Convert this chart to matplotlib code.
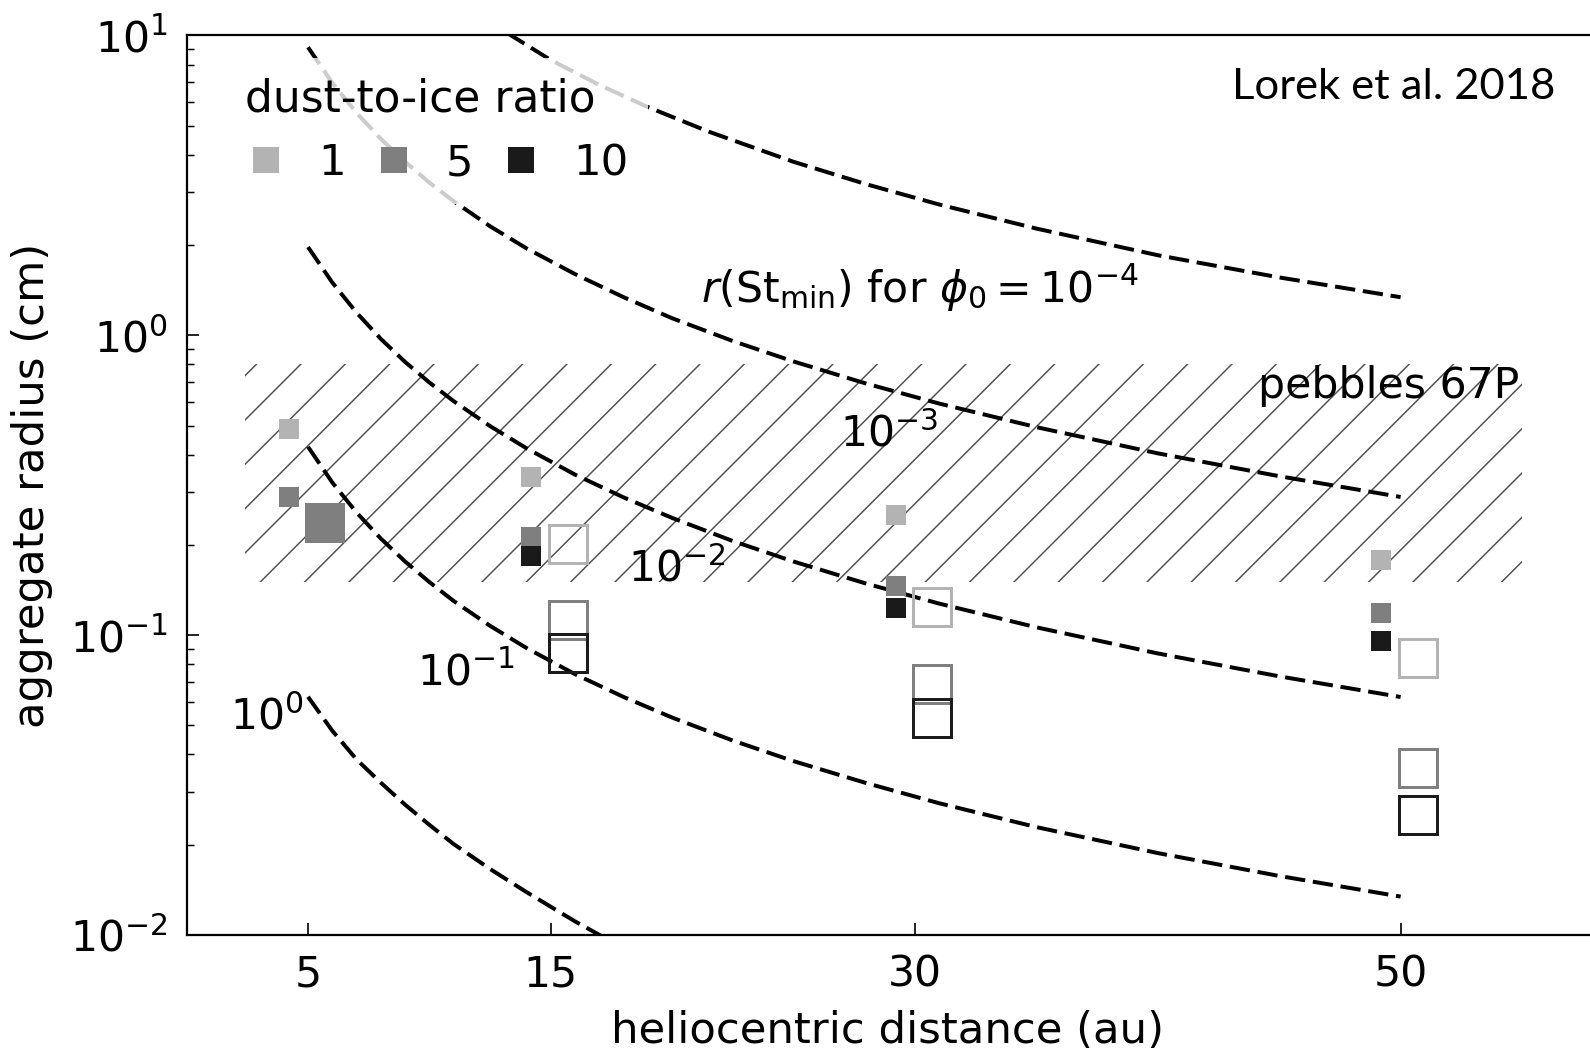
import numpy as np
import matplotlib
matplotlib.use("Agg")
import matplotlib.pyplot as plt
from matplotlib.lines import Line2D
from matplotlib.patches import Rectangle

# ---------------------------------------------------------------- data
distances = [5, 15, 30, 50]                  # au
ratio_labels = ["1", "5", "10"]              # dust-to-ice ratio
ratio_colors = ["#b3b3b3", "#7f7f7f", "#1a1a1a"]

# small filled squares (cm)
r_filled_1 = [0.488, 0.337, 0.251, 0.178]
r_filled_5 = [0.288, 0.212, 0.146, 0.119]
r_filled_10 = [np.nan, 0.184, 0.123, 0.0959]

# open squares (cm)
r_open_1 = [np.nan, 0.201, 0.124, 0.0842]
r_open_5 = [np.nan, 0.112, 0.0687, 0.036]
r_open_10 = [np.nan, 0.0869, 0.0528, 0.0251]

# large filled square at 5 au, dust-to-ice ratio 5
r_large_5au = 0.236

# r(St_min) curves for different phi_0
phi_labels = [r"$r(\mathrm{St}_{\mathrm{min}})$ for $\phi_0 = 10^{-4}$",
              r"$10^{-3}$", r"$10^{-2}$", r"$10^{-1}$", r"$10^{0}$"]

curve_x_e4 = [13.2, 15, 17, 19, 21.5, 25, 28, 31, 35, 40, 45, 50]
curve_r_e4 = [10.2, 8.28, 6.84, 5.77, 4.78, 3.79, 3.19, 2.73, 2.27, 1.85,
              1.56, 1.34]

curve_x_e3 = [5, 6, 7, 8, 9, 10, 11, 12.5, 14, 16, 18, 20, 22.5, 25, 28, 31,
              35, 40, 45, 50]
curve_r_e3 = [9.14, 6.95, 5.52, 4.52, 3.79, 3.23, 2.80, 2.31, 1.95, 1.60,
              1.34, 1.14, 0.957, 0.818, 0.690, 0.592, 0.494, 0.404, 0.339,
              0.289]

curve_x_e2 = [5, 6, 7, 8, 9, 10, 11, 12.5, 14, 16, 18, 20, 22.5, 25, 28, 31,
              35, 40, 45, 50]
curve_r_e2 = [1.97, 1.50, 1.19, 0.973, 0.815, 0.696, 0.603, 0.498, 0.420,
              0.343, 0.288, 0.246, 0.206, 0.176, 0.1485, 0.1274, 0.1062,
              0.0869, 0.0729, 0.0622]

curve_x_e1 = [5, 6, 7, 8, 9, 10, 11, 12.5, 14, 16, 18, 20, 22.5, 25, 28, 31,
              35, 40, 45, 50]
curve_r_e1 = [0.425, 0.323, 0.2564, 0.210, 0.176, 0.1503, 0.130, 0.1074,
              0.0906, 0.0741, 0.0622, 0.0531, 0.0445, 0.0380, 0.0321, 0.0275,
              0.0229, 0.01876, 0.01574, 0.01343]

curve_x_e0 = [5, 6, 7, 8, 9, 10, 11, 12.5, 14, 16, 17.5]
curve_r_e0 = [0.0623, 0.0480, 0.0385, 0.0322, 0.0272, 0.0233, 0.0201, 0.0166,
              0.0139, 0.0111, 0.0095]

# size range of the pebbles of comet 67P
pebble_x = [2.4, 55]
pebble_r = [0.15, 0.8]

# ---------------------------------------------------------------- style
W, H, DPI = 1590, 1050, 133.5
FS = 23
FS_LABEL = 23.4
plt.rcParams["font.family"] = ["DejaVu Sans"]
plt.rcParams["mathtext.fontset"] = "dejavusans"
plt.rcParams["hatch.linewidth"] = 0.8

fig = plt.figure(figsize=((W + 0.01) / DPI, (H + 0.01) / DPI), dpi=DPI)
fig.patch.set_facecolor("white")
ax = fig.add_axes([186.6 / W, 115 / H, 1456.8 / W, 899.5 / H])

ax.set_xlim(0, 60)
ax.set_yscale("log")
ax.set_ylim(0.01, 10)

# hatched band: pebbles of 67P
ax.add_patch(Rectangle((pebble_x[0], pebble_r[0]),
                       pebble_x[1] - pebble_x[0], pebble_r[1] - pebble_r[0],
                       fill=False, edgecolor="#505050", linewidth=0,
                       hatch="/", zorder=1))

# dashed r(St_min) curves
dash_kw = dict(color="black", lw=2.15, dashes=(5.1, 1.95), zorder=2)
for cx, cr in [(curve_x_e4, curve_r_e4), (curve_x_e3, curve_r_e3),
               (curve_x_e2, curve_r_e2), (curve_x_e1, curve_r_e1),
               (curve_x_e0, curve_r_e0)]:
    ax.plot(cx, cr, **dash_kw)

# markers
d = np.array(distances, dtype=float)
filled = [r_filled_1, r_filled_5, r_filled_10]
opened = [r_open_1, r_open_5, r_open_10]
for rf, c in zip(filled, ratio_colors):
    ax.plot(d - 0.8, rf, ls="none", marker="s", ms=11.3, color=c, mew=0,
            zorder=3)
for ro, c in zip(opened, ratio_colors):
    ax.plot(d + 0.72, ro, ls="none", marker="s", ms=20.3, mfc="none",
            mec=c, mew=1.6, zorder=3)
ax.plot([distances[0] + 0.72], [r_large_5au], ls="none", marker="s", ms=22,
        color=ratio_colors[1], mew=0, zorder=3)

# curve labels
text_kw = dict(fontsize=FS, ha="left", va="baseline", zorder=4)
ax.text(21.2, 1.28, phi_labels[0], **text_kw)
ax.text(26.9, 0.425, phi_labels[1], **text_kw)
ax.text(18.2, 0.1507, phi_labels[2], **text_kw)
ax.text(9.48, 0.0682, phi_labels[3], **text_kw)
ax.text(1.79, 0.0483, phi_labels[4], **text_kw)
ax.text(44.14, 0.618, "pebbles 67P", **text_kw)

# axes cosmetics
ax.spines["right"].set_visible(False)
for s in ("top", "left", "bottom"):
    ax.spines[s].set_linewidth(1.2)
ax.set_xticks(distances)
ax.set_xticklabels([str(v) for v in distances])
ax.tick_params(which="both", direction="in", top=False, right=False)
ax.tick_params(which="major", length=6.5, width=0.9, labelsize=FS, pad=10)
ax.tick_params(which="minor", length=4.0, width=0.8)
ax.xaxis.set_minor_locator(matplotlib.ticker.NullLocator())

ax.set_xlabel("heliocentric distance (au)", fontsize=FS_LABEL)
ax.set_ylabel("aggregate radius (cm)", fontsize=FS_LABEL)
ax.xaxis.set_label_coords(0.4815, -0.083)
ax.yaxis.set_label_coords(-0.0917, 0.5)

# legend
handles = [Line2D([], [], ls="none", marker="s", ms=14.5, color=c, mew=0)
           for c in ratio_colors]
leg = ax.legend(handles, ratio_labels, title="dust-to-ice ratio", ncol=3,
                loc="upper left", bbox_to_anchor=(0.0264, 0.975),
                borderaxespad=0, frameon=True, framealpha=0.8,
                edgecolor="none", fancybox=False, handlelength=1.0,
                handletextpad=0.7, columnspacing=0.6, borderpad=0.45,
                fontsize=FS_LABEL, title_fontsize=FS_LABEL + 0.3,
                alignment="left")
leg.set_zorder(5)

fig.text(1232 / W, 1 - 99.3 / H, "Lorek et al. 2018", fontsize=23.5,
         family=["Lato", "DejaVu Sans"], ha="left", va="baseline")

fig.savefig("out.png", dpi=DPI, facecolor="white")
